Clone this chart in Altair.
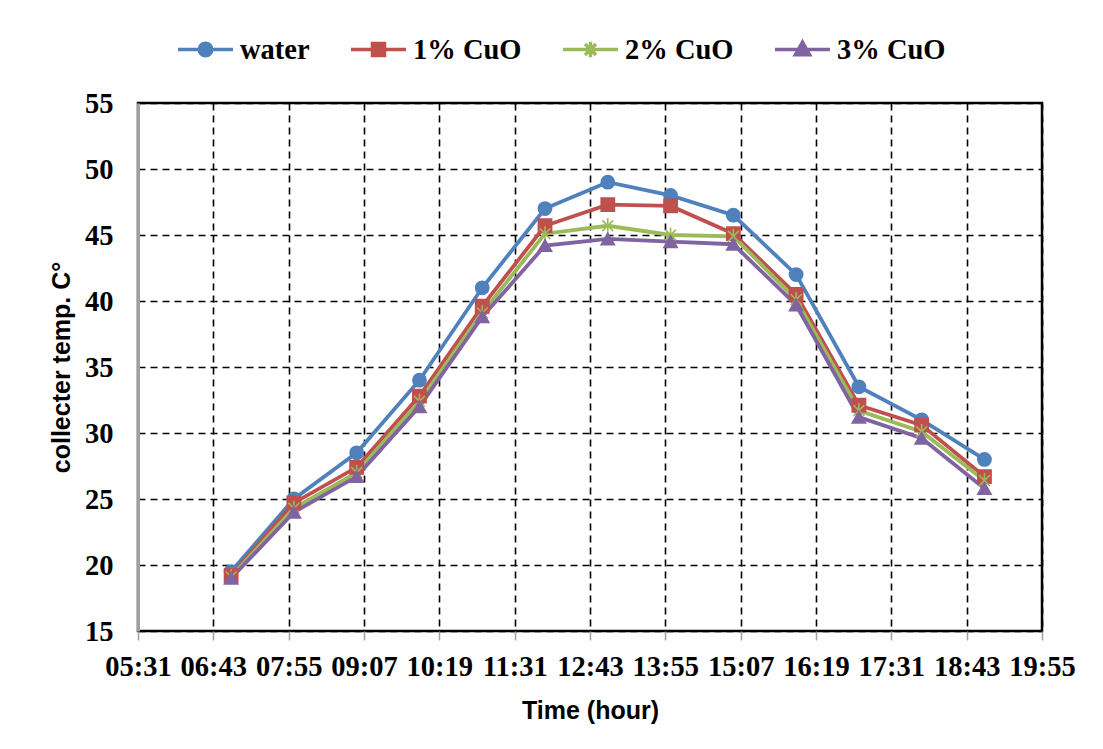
import altair as alt
import pandas as pd

# ---- data ----
times = ["07:00", "08:00", "09:00", "10:00", "11:00", "12:00", "13:00",
         "14:00", "15:00", "16:00", "17:00", "18:00", "19:00"]
water = [19.5, 25.0, 28.5, 34.0, 41.0, 47.0, 49.0, 48.0, 46.5, 42.0, 33.5, 31.0, 28.0]
cuo1 = [19.2, 24.7, 27.4, 32.8, 39.6, 45.7, 47.3, 47.2, 45.1, 40.5, 32.1, 30.6, 26.7]
cuo2 = [19.1, 24.3, 27.0, 32.4, 39.1, 45.1, 45.7, 45.0, 44.9, 40.1, 31.7, 30.1, 26.4]
cuo3 = [19.0, 24.0, 26.7, 32.0, 38.8, 44.2, 44.7, 44.5, 44.3, 39.7, 31.2, 29.6, 25.8]
series_names = ["water", "1% CuO", "2% CuO", "3% CuO"]
x_tick_labels = ["05:31", "06:43", "07:55", "09:07", "10:19", "11:31", "12:43",
                 "13:55", "15:07", "16:19", "17:31", "18:43", "19:55"]
y_ticks = [15, 20, 25, 30, 35, 40, 45, 50, 55]

colors = ["#4F81BD", "#C0504D", "#9BBB59", "#8064A2"]


def to_min(s):
    h, m = s.split(":")
    return int(h) * 60 + int(m)


rows = []
for name, vals in zip(series_names, [water, cuo1, cuo2, cuo3]):
    for t, v in zip(times, vals):
        rows.append({"series": name, "minutes": to_min(t), "temp": v})
df = pd.DataFrame(rows)

x_ticks = [to_min(s) for s in x_tick_labels]

label_expr = ("(floor(datum.value/60) < 10 ? '0' : '') + floor(datum.value/60) + ':' + "
              "(datum.value % 60 < 10 ? '0' : '') + (datum.value % 60)")

x_enc = alt.X("minutes:Q",
              scale=alt.Scale(domain=[x_ticks[0], x_ticks[-1]], nice=False, zero=False),
              axis=alt.Axis(values=x_ticks, labelExpr=label_expr, title="Time (hour)",
                            labelFont="Liberation Serif", labelFontWeight="bold",
                            labelFontSize=28.5, labelColor="black", labelPadding=12,
                            ticks=True, tickSize=9, tickColor="#a0a0a0", tickWidth=1.5,
                            domain=False, labelFlush=False, labelOverlap=False,
                            titleFont="Liberation Sans", titleFontWeight="bold",
                            titleFontSize=25, titleColor="black", titlePadding=18,
                            grid=True, gridColor="black", gridDash=[7, 5], gridWidth=1.6))
y_enc = alt.Y("temp:Q",
              scale=alt.Scale(domain=[15, 55], nice=False, zero=False),
              axis=alt.Axis(values=y_ticks, title="collecter temp. C°",
                            labelFont="Liberation Serif", labelFontWeight="bold",
                            labelFontSize=28.5, labelColor="black", labelPadding=25,
                            ticks=False, domain=True, domainColor="#a0a0a0", domainWidth=3,
                            titleFont="Liberation Sans", titleFontWeight="bold",
                            titleFontSize=25, titleColor="black", titlePadding=10,
                            grid=True, gridColor="black", gridDash=[7, 5], gridWidth=1.6))

color_scale = alt.Scale(domain=series_names, range=colors)

lines = alt.Chart(df).mark_line(strokeWidth=3.8).encode(
    x=x_enc, y=y_enc,
    color=alt.Color("series:N", scale=color_scale, legend=None),
    order=alt.Order("minutes:Q"),
    detail="series:N",
)

asterisk = "M0,-1.15L0,1.15M-0.82,-0.82L0.82,0.82M-0.82,0.82L0.82,-0.82"
points = alt.Chart(df).mark_point(filled=True, size=175, strokeWidth=1.6, opacity=1).encode(
    x=x_enc, y=y_enc,
    color=alt.Color("series:N", scale=color_scale, legend=None),
    stroke=alt.Stroke("series:N", scale=color_scale, legend=None),
    shape=alt.Shape("series:N", scale=alt.Scale(domain=series_names,
                    range=["circle", "square", asterisk, "triangle-up"]), legend=None),
)

leg_shapes = [
    "M-1,0L1,0M0.23,0A0.23,0.23 0 1,1 -0.23,0A0.23,0.23 0 1,1 0.23,0Z",
    "M-1,0L1,0M-0.22,-0.22L0.22,-0.22L0.22,0.22L-0.22,0.22Z",
    "M-1,0L1,0M0,-0.28L0,0.28M-0.2,-0.2L0.2,0.2M-0.2,0.2L0.2,-0.2",
    "M-1,0L1,0M0,-0.27L0.26,0.19L-0.26,0.19Z",
]
legend = alt.Legend(title=None, orient="none", legendX=38, legendY=-83,
                    direction="horizontal", symbolSize=3025, symbolStrokeWidth=3.4,
                    labelFont="Liberation Serif", labelFontWeight="bold",
                    labelFontSize=28.5, labelColor="black", labelOffset=5,
                    columnPadding=34, padding=0, symbolOpacity=1)
legend_layer = alt.Chart(df).transform_filter("false").mark_point(filled=True).encode(
    x=x_enc, y=y_enc,
    color=alt.Color("series:N", scale=color_scale, legend=legend),
    stroke=alt.Stroke("series:N", scale=color_scale, legend=legend),
    shape=alt.Shape("series:N", scale=alt.Scale(domain=series_names, range=leg_shapes),
                    legend=legend),
)

chart = alt.layer(lines, points, legend_layer).resolve_scale(
    color="independent", stroke="independent", shape="independent"
).properties(
    width=904, height=528,
    padding={"left": 41, "top": 12, "right": 5, "bottom": 5},
    background="white",
).configure_view(stroke="black", strokeWidth=2.5)

chart.save("out.html", embed_options={"renderer": "svg", "actions": False})
